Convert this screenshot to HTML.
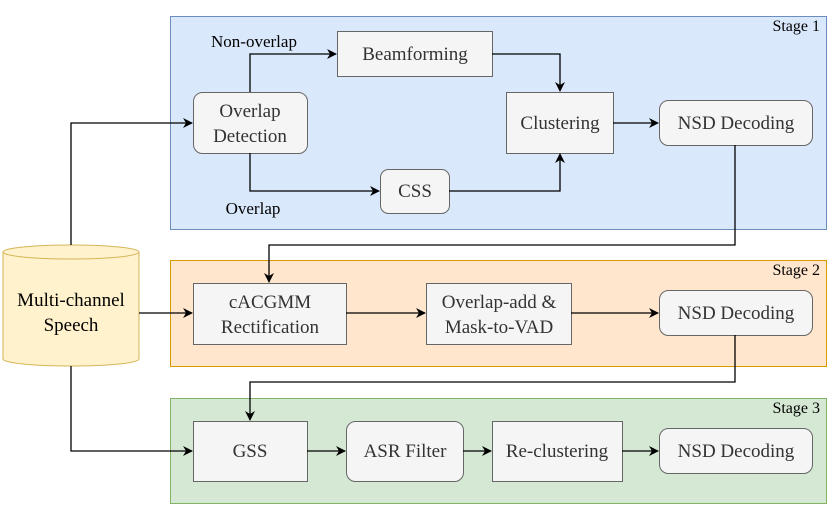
<!DOCTYPE html>
<html><head><style>
body{margin:0;background:#fff}
svg text{font-family:"Liberation Serif","Times New Roman",serif;}
</style></head><body>
<svg width="830" height="509" xmlns="http://www.w3.org/2000/svg" style="font-family:'Liberation Serif',serif" font-size="19">
<defs><marker id="a" markerWidth="10" markerHeight="10" refX="9" refY="5" orient="auto" markerUnits="userSpaceOnUse"><path d="M0,0 L10,5 L0,10 L3,5z" fill="#000"/></marker></defs>
<rect x="170.5" y="16.5" width="656" height="213" fill="#dae8fc" stroke="#6c8ebf"/>
<rect x="170.5" y="260.5" width="656" height="106" fill="#ffe6cc" stroke="#d79b00"/>
<rect x="170.5" y="398.5" width="656" height="105" fill="#d5e8d4" stroke="#82b366"/>
<g font-size="16" text-anchor="end"><text x="820" y="31">Stage 1</text><text x="820" y="275">Stage 2</text><text x="820" y="413">Stage 3</text></g>
<path d="M3,252 L3,359 A68,7 0 0 0 139,359 L139,252" fill="#fff2cc" stroke="#d6b656"/>
<ellipse cx="71" cy="252" rx="68" ry="7" fill="#fff2cc" stroke="#d6b656"/>
<text x="71" y="306" text-anchor="middle">Multi-channel</text><text x="71" y="331" text-anchor="middle">Speech</text>
<g fill="#f5f5f5" stroke="#666">
<rect x="193.5" y="92.5" width="114" height="61" rx="9"/>
<rect x="337.5" y="31.5" width="155" height="45"/>
<rect x="506.5" y="92.5" width="107" height="61"/>
<rect x="659.5" y="100.5" width="153" height="45" rx="9"/>
<rect x="380.5" y="169.5" width="69" height="44" rx="8"/>
<rect x="193.5" y="283.5" width="153" height="61"/>
<rect x="426.5" y="283.5" width="145" height="61"/>
<rect x="659.5" y="290.5" width="153" height="45" rx="9"/>
<rect x="193.5" y="421.5" width="114" height="60"/>
<rect x="346.5" y="421.5" width="117" height="60" rx="9"/>
<rect x="492.5" y="421.5" width="130" height="60"/>
<rect x="659.5" y="428.5" width="153" height="45" rx="9"/>
</g>
<g fill="#333" text-anchor="middle">
<text x="250" y="117">Overlap</text><text x="250" y="142">Detection</text>
<text x="415" y="60">Beamforming</text>
<text x="560" y="129">Clustering</text>
<text x="736" y="129">NSD Decoding</text>
<text x="415" y="197">CSS</text>
<text x="270" y="308">cACGMM</text><text x="270" y="333">Rectification</text>
<text x="499" y="308">Overlap-add &amp;</text><text x="499" y="333">Mask-to-VAD</text>
<text x="736" y="319">NSD Decoding</text>
<text x="250" y="457">GSS</text>
<text x="405" y="457">ASR Filter</text>
<text x="557" y="457">Re-clustering</text>
<text x="736" y="457">NSD Decoding</text>
</g>
<g fill="#000" text-anchor="middle" font-size="17"><text x="254" y="47">Non-overlap</text><text x="253" y="214">Overlap</text></g>
<g fill="none" stroke="#000" stroke-width="1.3" marker-end="url(#a)">
<path d="M71,245 V123 H192"/>
<path d="M250,92 V54 H336"/>
<path d="M250,153 V191 H379"/>
<path d="M492,54 H560 V91"/>
<path d="M449,191 H560 V154"/>
<path d="M613,123 H658"/>
<path d="M735,145 V245 H269 V282"/>
<path d="M139,313 H192"/>
<path d="M346,313 H425"/>
<path d="M571,313 H658"/>
<path d="M735,335 V382 H250 V420"/>
<path d="M71,366 V451 H192"/>
<path d="M307,451 H345"/>
<path d="M463,451 H491"/>
<path d="M622,451 H658"/>
</g>
</svg>
</body></html>
